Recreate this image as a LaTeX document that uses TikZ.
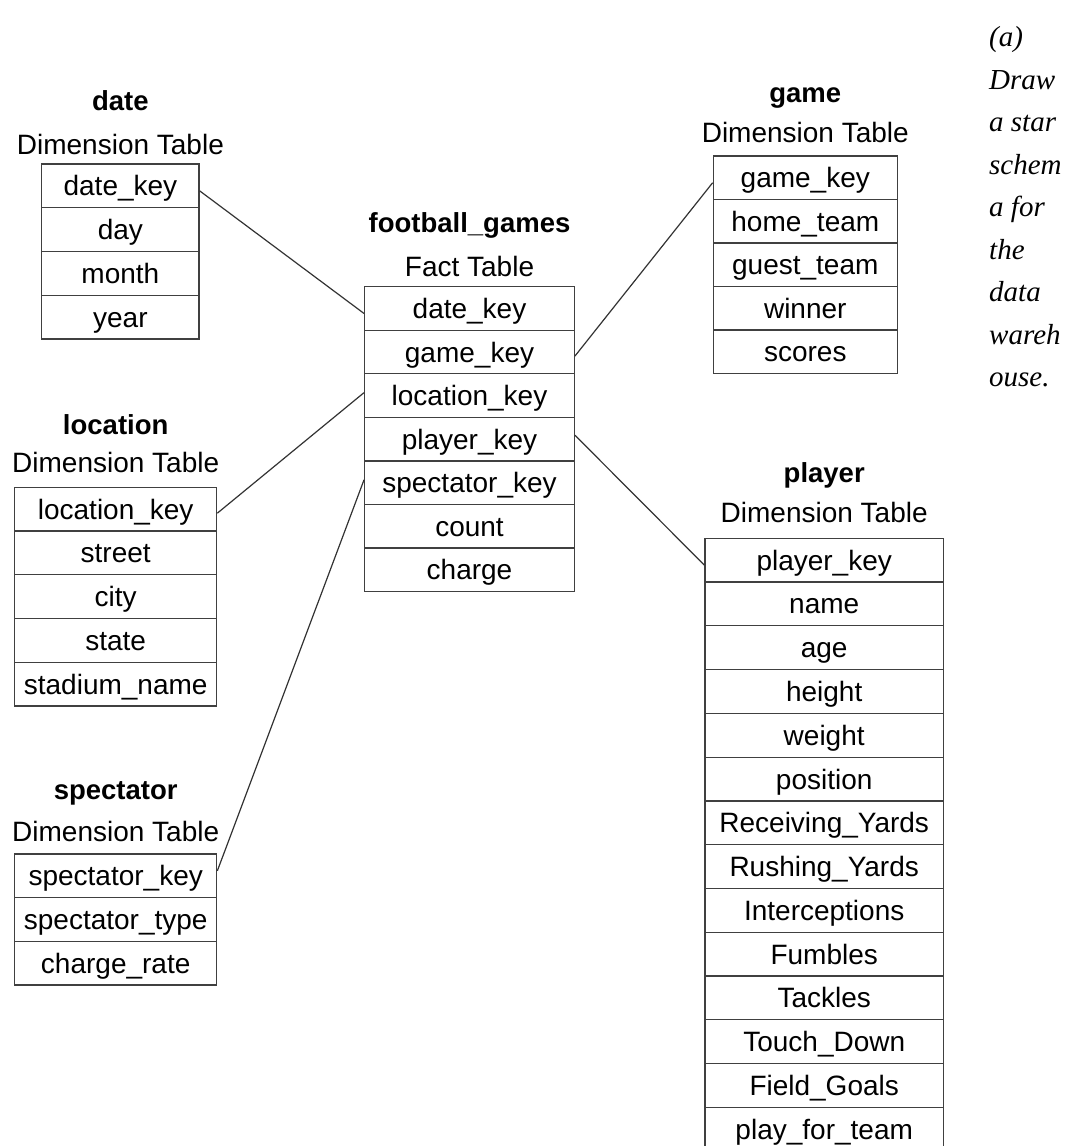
\documentclass[tikz,border=0pt]{standalone}
\usepackage{fontspec}
\setmainfont{Liberation Sans}
\newfontfamily\qserif{Liberation Serif}
\begin{document}
\begin{tikzpicture}[x=1pt,y=-1pt,
  cell/.style={draw=black!75, line width=1.3pt, inner sep=0pt, text height=23pt, text depth=3pt, font=\fontsize{28}{30}\selectfont, text=black},
  ttl/.style={font=\fontsize{27.5}{30}\selectfont\bfseries, inner sep=0pt, text height=22pt, text depth=4pt},
  sub/.style={font=\fontsize{28}{30}\selectfont, inner sep=0pt, text height=22pt, text depth=4pt},
  conn/.style={draw=black!80, line width=1.2pt}]
\useasboundingbox (0,0) rectangle (1078,1146);
\fill[white] (0,0) rectangle (1078,1146);

% date
\node[ttl] (dateT) at (120.4,101) {date};
\node[sub] (dateS) at (120.4,145) {Dimension Table};
\foreach \t [count=\i] in {date\_key,day,month,year}
  \node[cell, minimum width=157.3pt, minimum height=43.75pt] (date\i) at (120.4,{164+43.75*(\i-0.5)}) {\t};

% fact
\node[ttl] (factT) at (469.5,223) {football\_games};
\node[sub] (factS) at (469.5,267) {Fact Table};
\foreach \t [count=\i] in {date\_key,game\_key,location\_key,player\_key,spectator\_key,count,charge}
  \node[cell, minimum width=209.6pt, minimum height=43.57pt] (fact\i) at (469.5,{286.7+43.57*(\i-0.5)}) {\t};

% game
\node[ttl] (gameT) at (805.3,93) {game};
\node[sub] (gameS) at (805.3,133) {Dimension Table};
\foreach \t [count=\i] in {game\_key,home\_team,guest\_team,winner,scores}
  \node[cell, minimum width=184pt, minimum height=43.47pt] (game\i) at (805.3,{156+43.47*(\i-0.5)}) {\t};

% location
\node[ttl] (locT) at (115.7,425) {location};
\node[sub] (locS) at (115.7,463) {Dimension Table};
\foreach \t [count=\i] in {location\_key,street,city,state,stadium\_name}
  \node[cell, minimum width=202pt, minimum height=43.73pt] (loc\i) at (115.7,{487.3+43.73*(\i-0.5)}) {\t};

% spectator
\node[ttl] (specT) at (115.7,790) {spectator};
\node[sub] (specS) at (115.7,832) {Dimension Table};
\foreach \t [count=\i] in {spectator\_key,spectator\_type,charge\_rate}
  \node[cell, minimum width=202pt, minimum height=43.67pt] (spec\i) at (115.7,{854+43.67*(\i-0.5)}) {\t};

% player
\node[ttl] (plT) at (824.2,473) {player};
\node[sub] (plS) at (824.2,513) {Dimension Table};
\foreach \t [count=\i] in {player\_key,name,age,height,weight,position,Receiving\_Yards,Rushing\_Yards,Interceptions,Fumbles,Tackles,Touch\_Down,Field\_Goals,play\_for\_team}
  \node[cell, minimum width=238.3pt, minimum height=43.77pt] (pl\i) at (824.2,{538.3+43.77*(\i-0.5)}) {\t};

% connectors
\draw[conn] ([yshift=-5pt]date1.east) -- ([yshift=-5pt]fact1.west);
\draw[conn] ([yshift=-4pt]fact2.east) -- ([yshift=-5pt]game1.west);
\draw[conn] ([yshift=3pt]fact3.west) -- ([yshift=-4pt]loc1.east);
\draw[conn] ([yshift=4pt]fact4.east) -- ([yshift=-5pt]pl1.west);
\draw[conn] ([yshift=3pt]fact5.west) -- ([yshift=5pt]spec1.east);

% question text
\node[anchor=west, inner sep=0pt, align=left, font=\fontsize{29}{42.5}\selectfont\qserif\itshape] (q) at (989,207) {(a)\\Draw\\a star\\schem\\a for\\the\\data\\wareh\\ouse.};
\end{tikzpicture}
\end{document}
